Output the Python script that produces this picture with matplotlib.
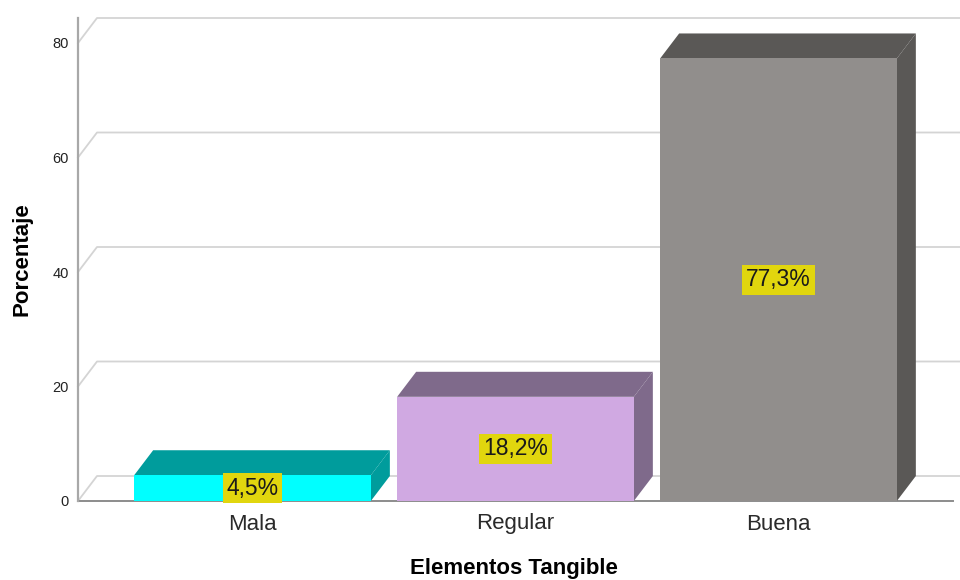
import numpy as np
import matplotlib.pyplot as plt
from matplotlib.patches import Polygon

plt.rcParams['font.family'] = ['Liberation Sans', 'DejaVu Sans']

# Elementos tangibles: porcentaje por categoria
categorias = ['Mala', 'Regular', 'Buena']
porcentajes = [4.5, 18.2, 77.3]
y_ticks = [0, 20, 40, 60, 80]

# colores de cara frontal y de cara superior/lateral
color_frente = ['#00FFFF', '#D0A9E2', '#918E8C']
color_lado = ['#009C9C', '#7F6A8B', '#5A5856']

ancho = 0.9
# profundidad del efecto 3D (en unidades de datos)
DX = 19 / 263
DY = 25 / 5.725

fig = plt.figure(figsize=(9.6, 5.8), dpi=100)
ax = fig.add_axes([78 / 960, 79 / 580, 875 / 960, 483 / 580])
x = np.arange(len(categorias))
xmin, xmax = -0.6635, 2.6635
ax.set_xlim(xmin, xmax)
ax.set_ylim(0, 80 + DY)

# rejilla en la pared del fondo
for v in y_ticks:
    ax.plot([xmin, xmin + DX, 2.72], [v, v + DY, v + DY], color='#d4d4d4',
            lw=1.3, clip_on=False, zorder=1)

# barras con cara superior y lateral
for i, v in enumerate(porcentajes):
    xl = x[i] - ancho / 2
    xr = x[i] + ancho / 2
    top = Polygon([(xl, v), (xl + DX, v + DY), (xr + DX, v + DY), (xr, v)],
                  closed=True, facecolor=color_lado[i], edgecolor='none', zorder=3)
    side = Polygon([(xr, 0), (xr + DX, DY), (xr + DX, v + DY), (xr, v)],
                   closed=True, facecolor=color_lado[i], edgecolor='none', zorder=3)
    ax.add_patch(top)
    ax.add_patch(side)
ax.bar(x, porcentajes, width=ancho, color=color_frente, zorder=4)

# etiquetas de valor
for i, v in enumerate(porcentajes):
    txt = f'{v:.1f}'.replace('.', ',') + '%'
    ax.text(x[i], v / 2, txt, ha='center', va='center', fontsize=16.5,
            color='#1a1a1a', zorder=5,
            bbox=dict(boxstyle='square,pad=0.16', facecolor='#E1D60E',
                      edgecolor='none'))

for s in ['top', 'right']:
    ax.spines[s].set_visible(False)
ax.spines['left'].set_color('#a8a8a8')
ax.spines['left'].set_linewidth(1.6)
ax.spines['bottom'].set_color('#8c8c8c')
ax.spines['bottom'].set_linewidth(1.4)
ax.spines['bottom'].set_zorder(2)

ax.set_yticks(y_ticks)
ax.set_yticklabels([str(t) for t in y_ticks])
ax.set_xticks(x)
ax.set_xticklabels(categorias)
ax.tick_params(axis='y', length=0, pad=6.5, labelsize=10.5, labelcolor='#222222')
ax.tick_params(axis='x', length=0, pad=9, labelsize=16, labelcolor='#2a2a2a')

ax.set_xlabel('Elementos Tangible', fontsize=16, fontweight='bold', va='center')
ax.xaxis.set_label_coords(0.498, -0.139)
ax.set_ylabel('Porcentaje', fontsize=16, fontweight='bold', va='center')
ax.yaxis.set_label_coords(-0.064, 0.501)

fig.savefig('out.png', dpi=100)
